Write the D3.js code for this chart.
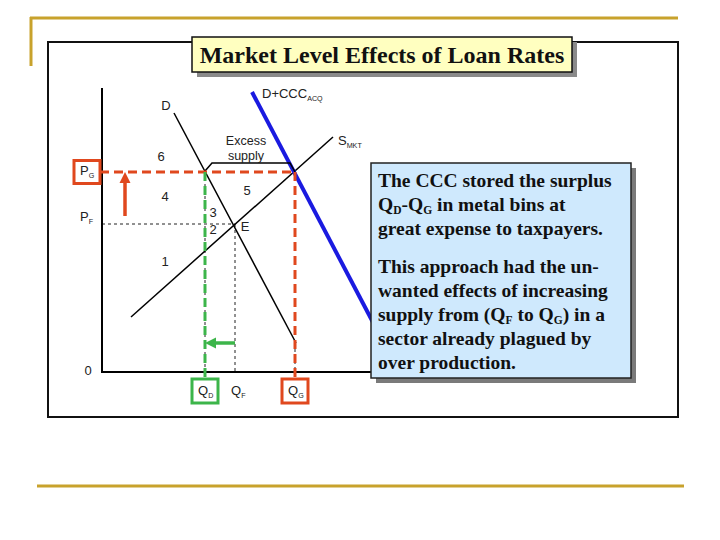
<!DOCTYPE html>
<html>
<head>
<meta charset="utf-8">
<script src="https://cdn.jsdelivr.net/npm/d3@7"></script>
<style>
  body { margin: 0; background: #fff; }
  svg { display: block; }
</style>
</head>
<body>
<div id="chart"></div>
<script>
// quantities and prices in chart units (axis origin = 0)
const qLevels = [
  { key: 'QD', sub: 'D', q: 103, color: '#3cb54a' },
  { key: 'QF', sub: 'F', q: 133, color: null },
  { key: 'QG', sub: 'G', q: 193, color: '#e0481e' }
];
const pLevels = [
  { key: 'PG', sub: 'G', p: 200, color: '#e0481e' },
  { key: 'PF', sub: 'F', p: 148, color: null }
];
const supplyLine = [[29, 55], [231, 235]];
const demandLine = [[72, 259], [194, 29]];
const cccLine = [[150, 280], [275, 42]];
const areaLabels = [
  { t: '6', q: 59, p: 214 }, { t: '4', q: 63, p: 174 }, { t: '3', q: 111, p: 158 },
  { t: '2', q: 111, p: 141 }, { t: 'E', q: 143, p: 144 }, { t: '5', q: 145, p: 180 },
  { t: '1', q: 63, p: 109 }
];
const boxLines = [
  ['The CCC stored the surplus'],
  [['Q', 'D'], '-', ['Q', 'G'], ' in metal bins at'],
  ['great expense to taxpayers.'],
  null,
  ['This approach had the un-'],
  ['wanted effects of increasing'],
  ['supply from (', ['Q', 'F'], ' to ', ['Q', 'G'], ') in a'],
  ['sector already plagued by'],
  ['over production.']
];

const W = 720, H = 540;
const svg = d3.select('#chart').append('svg').attr('width', W).attr('height', H);
const red = '#e0481e', green = '#3cb54a', blue = '#1a1ae0';

const x = d3.scaleLinear().domain([0, 270]).range([102, 372]);
const y = d3.scaleLinear().domain([0, 284]).range([372, 88]);

const defs = svg.append('defs');
function arrow(id, color) {
  defs.append('marker').attr('id', id).attr('viewBox', '0 0 10 10')
    .attr('refX', 2).attr('refY', 5).attr('markerWidth', 3.2).attr('markerHeight', 3.2)
    .attr('orient', 'auto')
    .append('path').attr('d', 'M0,0L10,5L0,10Z').attr('fill', color);
}
arrow('arRed', red);
arrow('arGreen', green);

// slide decoration
svg.append('line').attr('x1', 30).attr('x2', 678).attr('y1', 18).attr('y2', 18)
  .attr('stroke', '#c8a22c').attr('stroke-width', 3);
svg.append('line').attr('x1', 31).attr('x2', 31).attr('y1', 17).attr('y2', 66)
  .attr('stroke', '#c8a22c').attr('stroke-width', 3);
svg.append('line').attr('x1', 37).attr('x2', 684).attr('y1', 486).attr('y2', 486)
  .attr('stroke', '#c8a22c').attr('stroke-width', 3);
svg.append('rect').attr('x', 48).attr('y', 42).attr('width', 630).attr('height', 375)
  .attr('fill', '#fff').attr('stroke', '#111').attr('stroke-width', 2);

const g = svg.append('g');
const lineGen = d3.line().x(d => x(d[0])).y(d => y(d[1]));
const pG = pLevels[0].p, pF = pLevels[1].p;
const qD = qLevels[0].q, qF = qLevels[1].q, qG = qLevels[2].q;

// thin dashed guides
const thin = [
  [[0, pF], [qF, pF]], [[qF, pF], [qF, 0]],
  [[qD, pG], [qD, 0]], [[qG, 29], [qG, 0]]
];
g.selectAll('.guide').data(thin).enter().append('path')
  .attr('d', lineGen).attr('fill', 'none').attr('stroke', '#222')
  .attr('stroke-width', 1).attr('stroke-dasharray', '3,3');

// axes
g.append('path').attr('d', lineGen([[0, 284], [0, 0], [270, 0]]))
  .attr('fill', 'none').attr('stroke', '#000').attr('stroke-width', 2);

// curves
g.append('path').attr('d', lineGen(supplyLine)).attr('stroke', '#000').attr('stroke-width', 1.5);
g.append('path').attr('d', lineGen(demandLine)).attr('stroke', '#000').attr('stroke-width', 1.5);
g.append('path').attr('d', lineGen(cccLine)).attr('stroke', blue).attr('stroke-width', 4);

// excess supply bracket
g.append('path').attr('d', lineGen([[qD, pG + 1], [qD + 7, pG + 9], [qG - 5, pG + 9], [qG, pG]]))
  .attr('fill', 'none').attr('stroke', '#000').attr('stroke-width', 1.5);

// thick coloured dashes
g.append('path').attr('d', lineGen([[-2, pG], [qG, pG]]))
  .attr('stroke', red).attr('stroke-width', 3).attr('stroke-dasharray', '9,5');
g.append('path').attr('d', lineGen([[qG, pG], [qG, -6]]))
  .attr('stroke', red).attr('stroke-width', 3).attr('stroke-dasharray', '9,5');
g.append('path').attr('d', lineGen([[qD, pG], [qD, -6]]))
  .attr('stroke', green).attr('stroke-width', 3).attr('stroke-dasharray', '9,5');

// arrows
g.append('path').attr('d', lineGen([[23, pF + 8], [23, pG - 9]]))
  .attr('stroke', red).attr('stroke-width', 3.5).attr('marker-end', 'url(#arRed)');
g.append('path').attr('d', lineGen([[qF, 29], [qD + 9, 29]]))
  .attr('stroke', green).attr('stroke-width', 3.5).attr('marker-end', 'url(#arGreen)');

// text helpers
const sans = 'Arial, "Liberation Sans", sans-serif';
function subText(sel, main, sub, size) {
  sel.append('tspan').text(main);
  sel.append('tspan').text(sub).attr('font-size', size * 0.55).attr('dy', 3);
}

g.selectAll('.area').data(areaLabels).enter().append('text')
  .attr('x', d => x(d.q)).attr('y', d => y(d.p))
  .attr('font-family', sans).attr('font-size', 13).attr('fill', '#222')
  .attr('text-anchor', 'middle').attr('dominant-baseline', 'middle').text(d => d.t);

g.append('text').attr('x', 166).attr('y', 107).attr('font-family', sans).attr('font-size', 13)
  .attr('fill', '#222').attr('text-anchor', 'middle').attr('dominant-baseline', 'middle').text('D');
g.append('text').attr('x', 88).attr('y', 372).attr('font-family', sans).attr('font-size', 13)
  .attr('fill', '#222').attr('text-anchor', 'middle').attr('dominant-baseline', 'middle').text('0');
g.append('text').attr('x', 246).attr('y', 145).attr('font-family', sans).attr('font-size', 12.5)
  .attr('fill', '#222').attr('text-anchor', 'middle').text('Excess');
g.append('text').attr('x', 246).attr('y', 160).attr('font-family', sans).attr('font-size', 12.5)
  .attr('fill', '#222').attr('text-anchor', 'middle').text('supply');
subText(g.append('text').attr('x', 262).attr('y', 98).attr('font-family', sans)
  .attr('font-size', 13).attr('fill', '#222'), 'D+CCC', 'ACQ', 13);
subText(g.append('text').attr('x', 338).attr('y', 145).attr('font-family', sans)
  .attr('font-size', 13).attr('fill', '#222'), 'S', 'MKT', 13);

// price labels
pLevels.forEach(d => {
  const cy = y(d.p) - (d.color ? 0 : 6);
  if (d.color) {
    g.append('rect').attr('x', 74).attr('y', cy - 11.5).attr('width', 26).attr('height', 23)
      .attr('fill', '#fff').attr('stroke', d.color).attr('stroke-width', 3);
  }
  subText(g.append('text').attr('x', 80).attr('y', cy + 3).attr('font-family', sans)
    .attr('font-size', 13).attr('fill', '#222'), 'P', d.sub, 13);
});

// quantity labels
qLevels.forEach(d => {
  const cx = x(d.q) - (d.color ? 0 : -3);
  if (d.color) {
    g.append('rect').attr('x', cx - 13).attr('y', 379).attr('width', 26).attr('height', 24)
      .attr('fill', '#fff').attr('stroke', d.color).attr('stroke-width', 3);
  }
  subText(g.append('text').attr('x', cx - 7).attr('y', 395).attr('font-family', sans)
    .attr('font-size', 13).attr('fill', '#222'), 'Q', d.sub, 13);
});

// title box
const serif = '"Liberation Serif", "Times New Roman", serif';
svg.append('rect').attr('x', 197).attr('y', 42).attr('width', 380).attr('height', 35).attr('fill', '#8a8a8a');
svg.append('rect').attr('x', 192).attr('y', 37).attr('width', 380).attr('height', 35)
  .attr('fill', '#ffffc0').attr('stroke', '#111').attr('stroke-width', 1.5);
svg.append('text').attr('x', 382).attr('y', 63).attr('text-anchor', 'middle')
  .attr('font-family', serif).attr('font-weight', 'bold').attr('font-size', 24)
  .attr('fill', '#111').text('Market Level Effects of Loan Rates');

// note box
svg.append('rect').attr('x', 376).attr('y', 168).attr('width', 260).attr('height', 215).attr('fill', '#7a7a7a');
svg.append('rect').attr('x', 371).attr('y', 163).attr('width', 260).attr('height', 215)
  .attr('fill', '#cfe9fd').attr('stroke', '#222').attr('stroke-width', 1.5);
let ly = 187;
boxLines.forEach(parts => {
  if (!parts) { ly += 14; return; }
  const t = svg.append('text').attr('x', 378).attr('y', ly).attr('font-family', serif)
    .attr('font-weight', 'bold').attr('font-size', 19.5).attr('fill', '#111');
  let shift = 0;
  parts.forEach(p => {
    if (typeof p === 'string') {
      t.append('tspan').text(p).attr('dy', -shift);
      shift = 0;
    } else {
      t.append('tspan').text(p[0]).attr('dy', -shift);
      t.append('tspan').text(p[1]).attr('font-size', 11.5).attr('dy', 3);
      shift = 3;
    }
  });
  ly += 24;
});
</script>
</body>
</html>
